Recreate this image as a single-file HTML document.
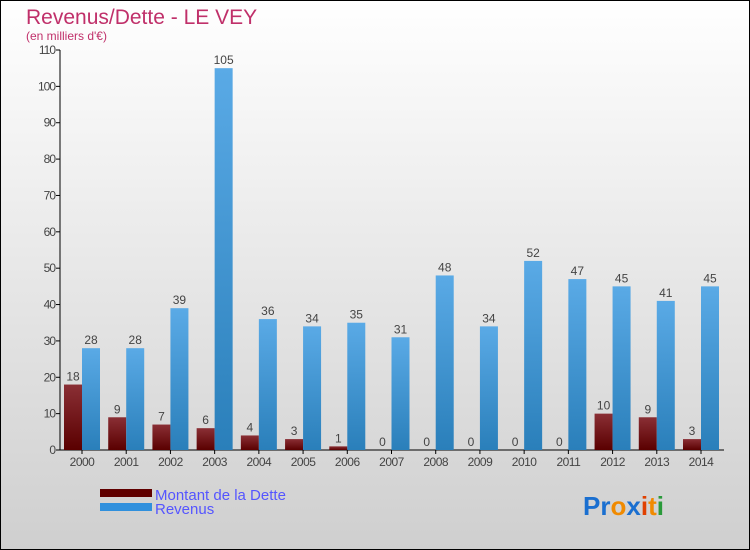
<!DOCTYPE html>
<html><head><meta charset="utf-8"><style>
body{margin:0;width:750px;height:550px;overflow:hidden;font-family:"Liberation Sans",sans-serif}
svg{display:block}
</style></head><body>
<svg id="c" width="750" height="550" xmlns="http://www.w3.org/2000/svg">
<defs>
<linearGradient id="bg" x1="0" y1="0" x2="0" y2="1"><stop offset="0" stop-color="#ffffff"/><stop offset="1" stop-color="#cfcfcf"/></linearGradient>
<linearGradient id="gd" x1="0" y1="0" x2="0" y2="1"><stop offset="0" stop-color="#8a2f35"/><stop offset="1" stop-color="#5a0000"/></linearGradient>
<linearGradient id="gr" x1="0" y1="0" x2="0" y2="1"><stop offset="0" stop-color="#5aaae6"/><stop offset="1" stop-color="#2a7fba"/></linearGradient>
</defs>
<rect x="0.5" y="0.5" width="749" height="549" fill="url(#bg)" stroke="#000"/>
<text x="26" y="24" font-size="21" fill="#c0306a">Revenus/Dette - LE VEY</text>
<text x="26" y="40" font-size="12" fill="#c0306a">(en milliers d'€)</text>
<g id="axes"></g><g id="bars"></g>
<rect x="100" y="489" width="52" height="8" fill="#600000"/>
<rect x="100" y="503" width="52" height="8" fill="#3090dd"/>
<text x="155" y="500" font-size="15" fill="#5555ff">Montant de la Dette</text>
<text x="155" y="514" font-size="15" fill="#5555ff">Revenus</text>
<g font-size="26" font-weight="bold">
<text x="583" y="515"><tspan fill="#1a6fd0">Pr</tspan><tspan fill="#f08a00">o</tspan><tspan fill="#1a6fd0">x</tspan><tspan fill="#e04000">i</tspan><tspan fill="#f08a00">t</tspan><tspan fill="#2a9a3a">i</tspan></text>
</g>
</svg>
<script>
const years=["2000","2001","2002","2003","2004","2005","2006","2007","2008","2009","2010","2011","2012","2013","2014"];
const debt=[18,9,7,6,4,3,1,0,0,0,0,0,10,9,3];
const revenue=[28,28,39,105,36,34,35,31,48,34,52,47,45,41,45];
const ticks=[0,10,20,30,40,50,60,70,80,90,100,110];
const NS="http://www.w3.org/2000/svg";
const y=v=>450-v*(400/110);
const x=i=>82+i*(619/14);
function mk(t,a,p){const e=document.createElementNS(NS,t);for(const k in a)e.setAttribute(k,a[k]);p.appendChild(e);return e;}
const ax=document.getElementById('axes'),bars=document.getElementById('bars');
const yl=mk('line',{x1:60,y1:50,x2:60,y2:450,stroke:'#000'},ax);


const xl=mk('line',{x1:60,y1:450,x2:724,y2:450,stroke:'#000'},ax);


ticks.forEach(t=>{
 mk('line',{x1:56,y1:y(t),x2:60,y2:y(t),stroke:'#000'},ax);
 const tx=mk('text',{x:55,y:y(t)+4,'font-size':12,fill:'#444','text-anchor':'end','letter-spacing':'-1'},ax);
 tx.textContent=t;
 
 
});
years.forEach((yr,i)=>{
 const cx=x(i);
 mk('line',{x1:cx,y1:450,x2:cx,y2:454,stroke:'#000'},ax);
 const tl=mk('text',{x:cx,y:466,'font-size':12,fill:'#444','text-anchor':'middle','letter-spacing':'-0.5'},ax);
 tl.textContent=yr;
 
 
 const d=debt[i],r=revenue[i];
 const bd=mk('rect',{x:cx-18,y:y(d),width:18,height:450-y(d),fill:'url(#gd)'},bars);
 
 
 const br=mk('rect',{x:cx,y:y(r),width:18,height:450-y(r),fill:'url(#gr)'},bars);
 
 
 const ld=mk('text',{x:cx-9,y:y(d)-4,'font-size':12,fill:'#444','text-anchor':'middle'},bars);
 ld.textContent=d;
 
 
 const lr=mk('text',{x:cx+9,y:y(r)-4,'font-size':12,fill:'#444','text-anchor':'middle'},bars);
 lr.textContent=r;
 
 
});
</script>
</body></html>
